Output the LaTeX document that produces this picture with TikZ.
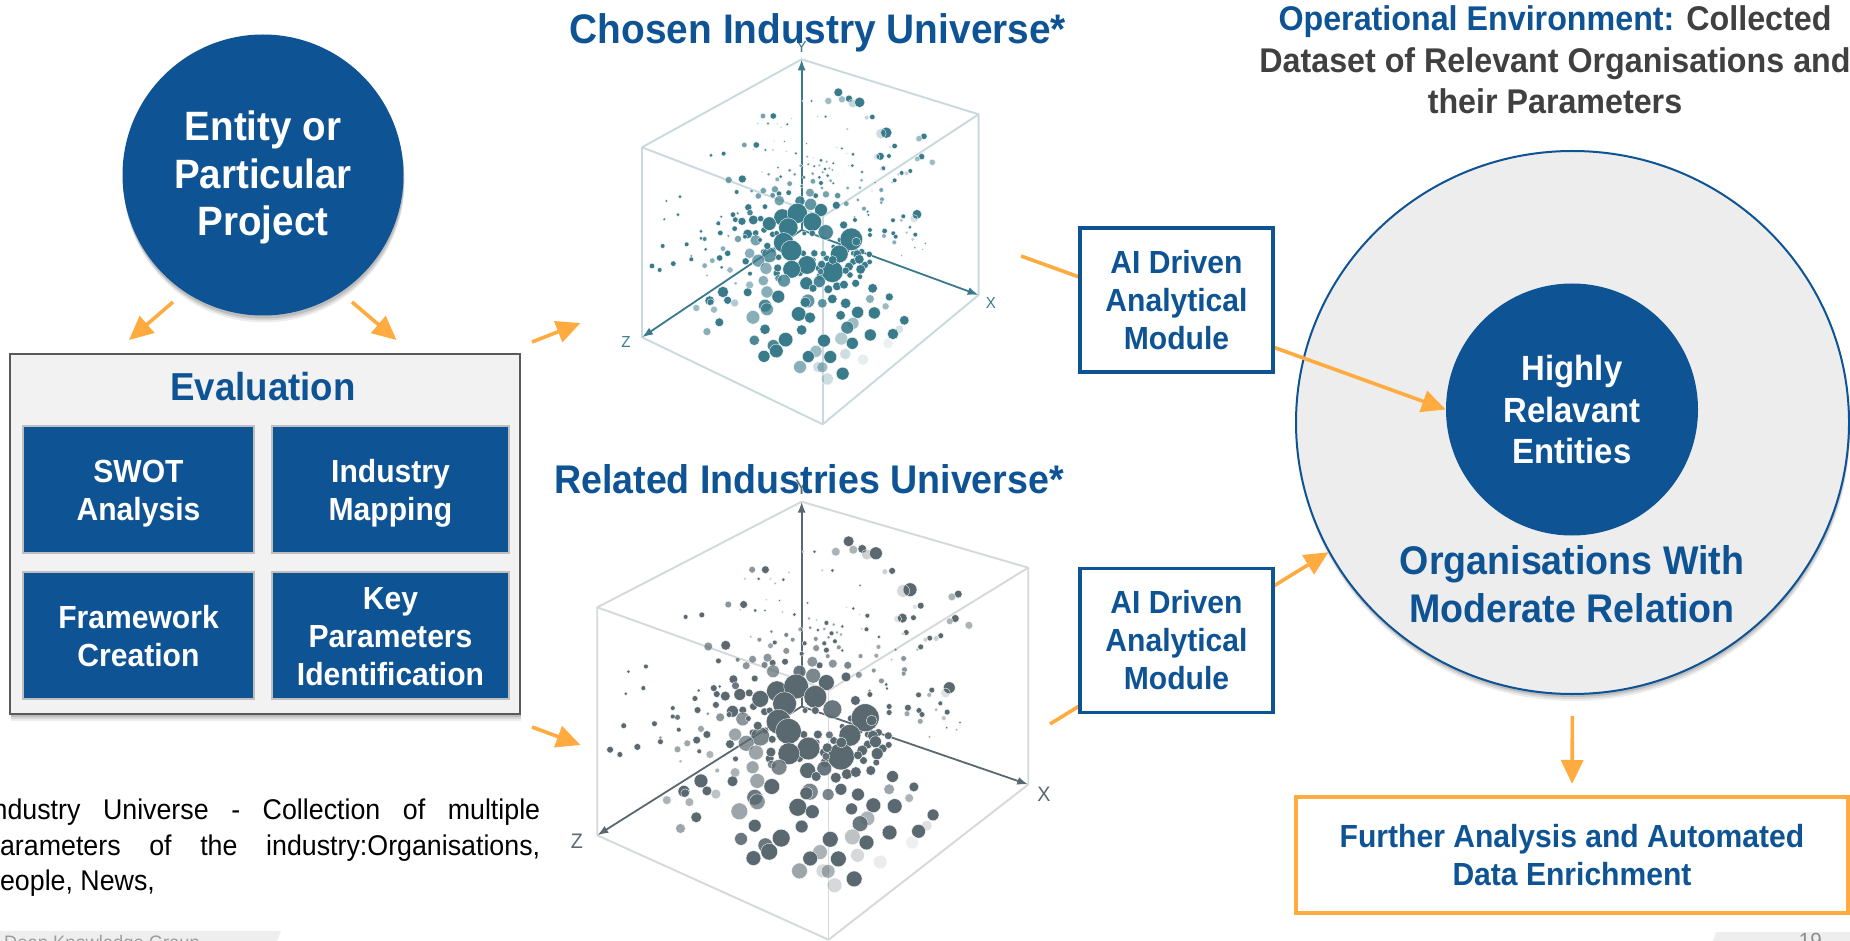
\documentclass[tikz,border=0pt]{standalone}
\usepackage{fontspec}
\setmainfont[FakeStretch=0.94]{Liberation Sans}
\usetikzlibrary{arrows.meta,shapes.geometric,shadows}
\definecolor{dkblue}{HTML}{0E5394}
\definecolor{orng}{HTML}{FFAB40}
\definecolor{panel}{HTML}{F2F2F2}
\definecolor{bigfill}{HTML}{EDEDED}
\definecolor{headgrey}{HTML}{404040}
\definecolor{tealdot}{HTML}{3A7B8B}
\definecolor{greydot}{HTML}{5A6970}
\definecolor{tealedge}{HTML}{C9DADE}
\definecolor{greyedge}{HTML}{D6D9D9}
\newcommand{\fsz}[2]{\fontsize{#1}{#2}\selectfont}
\newcommand{\lift}[1]{\rule{0pt}{#1pt}}
\tikzset{
  softshadow/.style={
    drop shadow={shadow xshift=1pt,shadow yshift=-7pt,opacity=.07,fill=black},
    drop shadow={shadow xshift=1pt,shadow yshift=-5pt,opacity=.09,fill=black},
    drop shadow={shadow xshift=.5pt,shadow yshift=-3pt,opacity=.12,fill=black}},
  arr/.style={draw=orng,line width=3.6pt,-{Triangle[length=24pt,width=22pt,fill=orng]}},
  inbox/.style={draw=black!25,line width=1.6pt,fill=dkblue,text=white,font=\bfseries\fsz{32}{38},align=center,inner sep=0pt},
  aibox/.style={draw=dkblue,line width=3.5pt,fill=white,text=dkblue,font=\bfseries\fsz{32}{38},align=center,inner sep=0pt,minimum width=193pt,minimum height=144pt},
  title/.style={text=dkblue,font=\bfseries\fsz{40}{48},align=center,inner sep=0pt},
  dot/.style={draw=white,line width=.35pt},
  axislbl/.style={inner sep=0pt}
}
\def\dotlist{835/217/10/1,867/236/8/1,846/238/8/.5,805/243/8/.5,878/250/10/.3,899/247/12/1,755/243/3/1,729/243/2/.4,
937/291/6/1,920/293/5/.3,979/338/13/1,963/341/12/.25,1092/349/7/1,1077/356/7/.5,1004/378/6/1,990/381/4/.2,961/409/9/1,950/411/7/.2,987/408/5/1,1085/410/7/1,1072/417/6/.5,1117/427/7/.5,
970/445/5/1,962/448/3/.3,1051/453/5/1,1040/460/5/.3,1025/459/5/1,1015/463/4/.3,1004/481/5/1,996/488/3/.4,
609/288/6/.7,640/288/7/1,797/290/3/1,773/289/2/.5,695/295/2/.4,624/311/3/1,592/311/2/.5,652/311/1.5/.5,682/313/3/1,663/322/2/.5,
553/375/6/.7,589/375/7/1,739/371/2/1,673/365/2/1,642/363/1.5/.5,846/385/3/1,830/382/1.5/.4,862/327/2/1,
453/406/4/1,491/401/5/1,581/388/2/.4,616/390/3/1,639/390/2/1,680/394/2/.4,708/400/3/1,879/403/4/1,860/400/1.5/.4,
742/410/3/.6,760/414/2/.4,783/421/4/1,800/425/3/.6,820/430/3/1,722/437/4/.6,745/433/3/.8,763/439/3/1,778/436/3/.6,795/447/4/1,808/445/3/.6,817/450/3/.6,877/437/4/1,866/436/2/.4,906/456/3/1,
654/443/3/.8,689/451/4/.8,606/456/2/.6,626/463/4/.7,662/470/4/1,652/478/5/.6,704/463/4/.7,732/472/4/1,758/461/4/.7,778/472/4/1,803/467/4/1,788/457/3/.7,
506/480/8/.7,547/477/9/1,689/491/6/.7,725/498/4/1,759/484/6/.7,783/489/5/1,812/482/4/.7,820/490/3/1,786/504/4/.7,863/504/4/.7,905/481/4/.6,945/488/3/.7,964/510/5/.7,900/503/4/.6,936/513/2/.5,
530/516/5/1,575/513/4/.8,610/512/7/.7,645/508/8/.7,657/521/6/1,686/518/6/1,767/527/6/1,750/518/10/.7,798/523/8/.7,833/527/7/.8,595/528/7/.7,638/526/6/.8,
658/542/12/.7,720/543/12/.9,752/553/14/.8,783/570/15/1,829/556/9/1,859/551/6/.7,894/540/4/.7,966/538/5/.7,964/548/4/.7,
565/562/8/1,615/560/6/1,912/566/5/.7,923/575/3/1,925/585/3/1,884/591/3/.7,885/600/5/1,1071/583/11/1,1062/596/9/.2,1030/589/5/1,1024/601/4/.5,999/601/5/1,
570/578/7/.9,519/584/6/1,533/580/3/1,484/590/3/1,580/600/11/1,602/596/7/1,526/599/6/1,546/604/9/1,475/610/5/1,360/530/4/1,319/543/3/1,354/584/4/1,313/598/3/1,
524/626/6/1,563/642/11/1,587/639/7/1,587/661/13/.7,638/643/7/1,481/639/6/1,423/634/4/1,434/657/5/.9,423/655/4/1,505/648/3/.7,534/657/8/.7,380/673/5/1,308/678/5/1,437/688/4/1,489/686/6/.6,503/700/7/1,394/708/3/.7,394/718/5/1,479/714/7/1,457/722/6/.6,434/737/6/.6,340/731/6/1,276/738/6/1,299/750/5/1,485/742/4/1,510/750/7/.5,441/767/3/.5,
1000/640/5/1,974/633/6/1,972/648/5/.6,1007/650/5/1,1050/622/4/1,1040/638/3/.5,1066/644/5/1,1003/667/5/.6,1058/659/4/.4,1096/670/2/1,1065/683/2/1,1088/688/2/.6,1025/706/2/.7,930/630/5/1,930/645/5/1,
612/630/7/1,600/660/5/1,640/690/6/1,730/700/7/1,760/720/6/1,800/715/7/1,840/660/6/1,820/680/5/1,860/690/7/1,880/700/6/1,905/695/7/1,915/735/8/1,900/770/6/1,650/760/8/1,780/770/9/1,800/740/8/1,835/745/8/1,870/765/7/1,880/725/8/1,555/650/5/1,610/695/6/1,650/640/6/1,720/760/7/1,
667/592/20/1,712/580/24/1,757/606/22/1,685/623/23/1,628/611/16/1,851/615/9/1,797/637/18/.9,874/658/27/1,889/665/10/.7,671/668/24/1,694/692/25/1,838/702/21/1,628/705/18/.8,741/735/22/1,695/748/21/1,817/755/26/1,777/745/8/1,
569/700/12/.6,557/724/8/1,595/722/15/.7,622/678/8/1,656/712/7/1,763/700/8/1,790/701/7/.9,733/640/5/1,757/640/7/1,
892/703/10/1,928/703/7/1,898/718/11/1,929/726/6/1,902/748/11/1,867/740/10/1,857/752/8/1,818/720/10/1,785/733/9/1,782/755/7/.9,
618/745/14/.6,653/744/9/1,570/761/5/1,610/782/12/.6,655/775/8/.8,672/782/15/.8,739/790/15/1,778/785/14/.9,759/805/9/1,805/808/10/1,831/799/10/1,852/794/10/1,887/790/9/1,938/805/11/1,
527/790/4/.5,569/795/9/.5,563/817/10/1,621/816/14/.6,655/830/15/1,489/816/13/1,988/831/9/1,930/837/10/.6,817/837/11/1,857/850/12/1,787/850/11/.8,744/843/16/.8,736/847/12/1,449/842/11/1,452/847/8/.4,503/841/9/1,524/849/9/.4,409/864/8/.5,462/869/8/.5,977/859/8/.5,615/857/15/.9,621/868/15/.7,893/877/14/1,943/879/14/1,842/886/11/1,716/882/17/1,750/893/13/1,579/892/16/.6,478/907/10/1,1033/901/11/1,879/910/14/.5,862/923/15/.9,615/928/12/1,725/930/12/1,441/935/9/.6,1018/928/10/.2,999/942/13/1,931/945/14/1,844/956/15/.4,792/962/15/1,677/959/17/1,583/961/12/.9,877/970/14/1,984/970/12/.1,640/977/14/.9,649/993/16/1,768/994/14/.5,856/1002/13/.25,612/1009/14/1,745/1010/14/1,811/1011/15/1,909/1019/13/.12,720/1041/15/.6,775/1041/13/.25,787/1042/13/.5,848/1061/15/1,802/1077/14/.25}
% #1 prefix, #2 dot colour, #3 edge colour, #4 radius unit, #5 label size
\newcommand{\cubeplot}[5]{%
  \coordinate (#1tp) at (725,118);
  \coordinate (#1rt) at (1256,283);
  \coordinate (#1lf) at (246,382);
  \coordinate (#1ct) at (788,590);
  \coordinate (#1zz) at (246,952);
  \coordinate (#1xx) at (1256,825);
  \coordinate (#1bt) at (788,1213);
  \coordinate (#1og) at (725,630);
  \draw[#3,line width=1.9pt,line join=round] (#1lf) -- (#1tp) -- (#1rt) -- (#1ct) -- cycle;
  \draw[#3,line width=1.9pt,line join=round] (#1lf) -- (#1zz) -- (#1bt) -- (#1xx) -- (#1rt);
  \draw[#3,line width=1.9pt] (#1ct) -- (#1bt);
  \draw[#2,line width=1.8pt,-{Latex[length=11pt,width=8pt]}] (#1og) -- (#1tp);
  \draw[#2,line width=1.8pt,-{Latex[length=11pt,width=8pt]}] (#1og) -- (#1xx);
  \draw[#2,line width=1.8pt,-{Latex[length=11pt,width=8pt]}] (#1og) -- (#1zz);
  \foreach \px/\py/\pr/\po in \dotlist {
    \path[dot,fill=#2,fill opacity=\po] (\px,\py) circle [radius={(\pr*1.22+1)*#4*1pt}];
  }
  \node[axislbl,text=#2,font=\fsz{#5}{#5}] (#1lx) at (1293,850) {X};
  \node[axislbl,text=#2,font=\fsz{#5}{#5}] (#1lz) at (198,967) {Z};
  \node[axislbl,text=#2,font=\fsz{#5}{#5}] (#1ly) at (725,82) {Y};
}
\begin{document}
\begin{tikzpicture}[x=1pt,y=-1pt]
\useasboundingbox (0,0) rectangle (1850,941);
\fill[white] (0,0) rectangle (1850,941);

% footers
\fill[black!6.5] (0,931) -- (281,931) -- (277,941) -- (0,941) -- cycle;
\fill[black!6.5] (1716,932) -- (1850,932) -- (1850,941) -- (1713,941) -- cycle;
\node[anchor=base west,inner sep=0pt,text=black!38,font=\fsz{19.5}{19.5}] (foot) at (4,949.5) {Deep Knowledge Group};
\node[anchor=base east,inner sep=0pt,text=black!45,font=\fsz{22}{22}] (pgno) at (1822,948) {19};

% Entity and evaluation
\node[circle,fill=dkblue,minimum size=281pt,inner sep=0pt,text=white,font=\bfseries\fsz{41}{47.5},align=center,softshadow] (ent) at (263,175) {\lift{35}Entity or\\Particular\\Project};
\node[rectangle,draw=black!65,line width=1.8pt,fill=panel,minimum width=510pt,minimum height=360pt,inner sep=0pt,softshadow] (eval) at (265,534) {};
\node[title,font=\bfseries\fsz{39}{48}] (evt) at (263,387) {Evaluation};
\node[inbox,minimum width=231pt,minimum height=127pt] (swot) at (138.5,489.5) {\lift{31}SWOT\\Analysis};
\node[inbox,minimum width=237pt,minimum height=127pt] (imap) at (390.5,489.5) {\lift{31}Industry\\Mapping};
\node[inbox,minimum width=231pt,minimum height=127pt] (fram) at (138.5,635.5) {\lift{24}Framework\\Creation};
\node[inbox,minimum width=237pt,minimum height=127pt] (keyp) at (390.5,635.5) {\lift{24}Key\\Parameters\\Identification};

\coordinate (e1s) at (173,302); \coordinate (e1t) at (129,340);
\coordinate (e2s) at (352,302); \coordinate (e2t) at (396.5,340);
\draw[arr] (e1s) -- (e1t);
\draw[arr] (e2s) -- (e2t);
\coordinate (p1s) at (532,342); \coordinate (p1t) at (580.5,323);
\coordinate (p2s) at (532,727); \coordinate (p2t) at (580.5,745);
\draw[arr] (p1s) -- (p1t);
\draw[arr] (p2s) -- (p2t);

% footnote
\node[anchor=north west,inner sep=0pt,text width=555pt,align=justify,font=\fsz{28.5}{35.5}] (note) at (-15,799) {Industry Universe - Collection of multiple\linebreak parameters of the industry:Organisations,\linebreak people, News,};

% plots
\begin{scope}[shift={(560,20)},x=.3333pt,y=-.3333pt]
\cubeplot{a}{tealdot}{tealedge}{.3333}{16}
\end{scope}
\begin{scope}[shift={(492.3,454.5)},x=.4267pt,y=-.4pt]
\cubeplot{b}{greydot}{greyedge}{.41}{21}
\end{scope}

\node[title,font=\bfseries\fsz{41.3}{48}] (t1) at (818,33) {Chosen Industry Universe*};
\node[title] (t2) at (809,479) {Related Industries Universe*};

% right
\node[align=center,inner sep=0pt,font=\bfseries\fsz{34.3}{41.3},text=headgrey] (hd) at (1555,60) {\textcolor{dkblue}{Operational Environment:} Collected\\Dataset of Relevant Organisations and\\their Parameters};
\node[ellipse,draw=dkblue,line width=2pt,fill=bigfill,minimum width=553pt,minimum height=543pt,inner sep=0pt,softshadow] (big) at (1572.5,422.5) {};
\node[circle,fill=dkblue,minimum size=252pt,inner sep=0pt,text=white,font=\bfseries\fsz{35}{41.5},align=center] (hre) at (1572,409.5) {Highly\\Relavant\\Entities};
\node[title] (org) at (1572,584) {Organisations With\\Moderate Relation};

\coordinate (a1s) at (1021,256);
\coordinate (a2s) at (1050,724);
\draw[arr] (a1s) -- (hre.west);
\draw[arr] (a2s) -- (big.208);
\node[aibox] (ai1) at (1176.5,300) {AI Driven\\Analytical\\Module};
\node[aibox] (ai2) at (1176.5,640.5) {AI Driven\\Analytical\\Module};

\node[draw=orng,line width=4pt,fill=white,minimum width=552pt,minimum height=116pt,inner sep=0pt,text=dkblue,font=\bfseries\fsz{32}{38},align=center] (fur) at (1572,855) {Further Analysis and Automated\\Data Enrichment};
\draw[arr,shorten <=21pt,shorten >=11pt] (big.south) -- (fur.north);
\end{tikzpicture}
\end{document}
